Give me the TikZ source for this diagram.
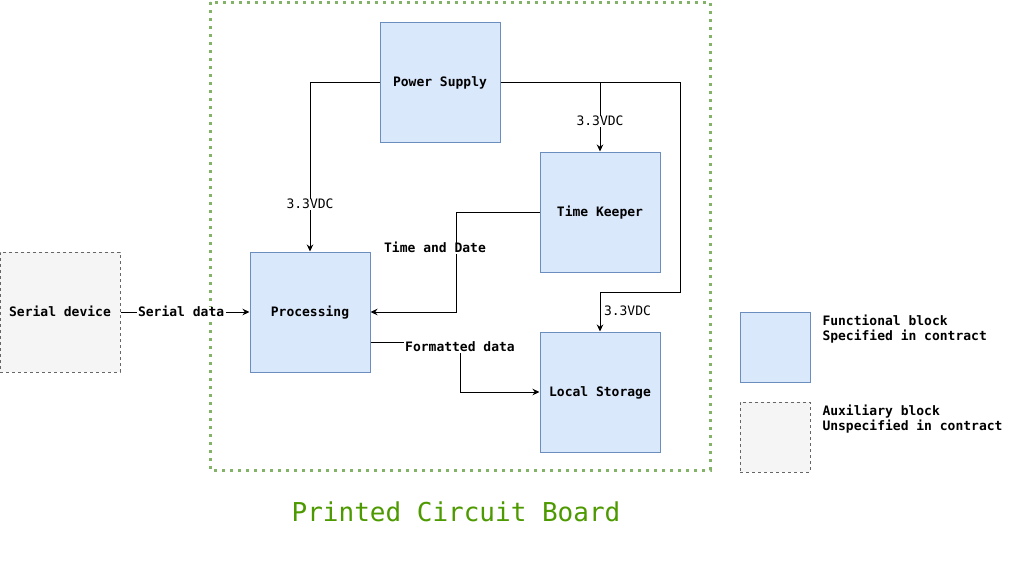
\documentclass[tikz,border=0pt]{standalone}
\usepackage{fontspec}
\setmonofont{DejaVu Sans Mono}
\usetikzlibrary{arrows.meta,positioning,calc}
\definecolor{fnfill}{HTML}{DAE8FC}
\definecolor{fndraw}{HTML}{6C8EBF}
\definecolor{auxfill}{HTML}{F5F5F5}
\definecolor{auxdraw}{HTML}{666666}
\definecolor{pcbdraw}{HTML}{82B366}
\definecolor{pcbtext}{HTML}{4D9900}
\tikzstyle{block}=[draw=fndraw,fill=fnfill,minimum size=120pt,inner sep=0pt,text height=9.5pt,text depth=0pt,font=\ttfamily\bfseries\fontsize{13}{15}\selectfont]
\tikzstyle{auxblock}=[block,draw=auxdraw,fill=auxfill,dashed]
\tikzstyle{lbl}=[fill=white,inner sep=1.5pt,text height=8pt,text depth=0pt,font=\ttfamily\bfseries\fontsize{13}{15}\selectfont]
\tikzstyle{volt}=[lbl,font=\ttfamily\fontsize{13}{15}\selectfont]
\tikzstyle{keytext}=[anchor=west,align=left,inner sep=0pt,font=\ttfamily\bfseries\fontsize{13}{15}\selectfont]

\begin{document}
\begin{tikzpicture}[x=1pt,y=-1pt,line width=1pt,>={Stealth[length=7pt,width=6.5pt]}]
\useasboundingbox (0,0) rectangle (1021,563);
% board outline
\draw[pcbdraw,line width=3pt,dash pattern=on 3pt off 5pt] (210,2) rectangle (710,470);
\node[text=pcbtext,font=\ttfamily\fontsize{26}{30}\selectfont] (pcblabel) at (456,512) {Printed Circuit Board};

% blocks
\node[block] (psu) at (440,82) {Power Supply};
\node[block] (keeper) at (600,212) {Time Keeper};
\node[block] (proc) at (310,312) {Processing};
\node[block] (store) at (600,392) {Local Storage};
\node[auxblock] (serial) at (60,312) {Serial device};

% turning points
\coordinate (railturn) at (680,292);
\coordinate (tdturn) at (456,212);
\coordinate (fdturn) at (460,342);

% power
\draw[->] (psu.west) -| (proc.north) node[volt,pos=0.862] {3.3VDC};
\draw[->] (psu.east) -| (keeper.north) node[volt,pos=0.786] {3.3VDC};
\draw[->] (psu.east) -| (railturn) -| (store.north) node[volt,pos=0.75,right,xshift=2pt,fill=none] {3.3VDC};

% data
\draw[->] (serial) -- (proc) node[lbl,pos=0.47] {Serial data};
\draw[->] (keeper.west) -- (tdturn) |- (proc.east) node[lbl,pos=0.18,xshift=-21pt] {Time and Date};
\draw[->] (proc.east |- fdturn) -- (fdturn) node[lbl,yshift=-5pt] {Formatted data} |- (store.west);

% legend
\node[block,minimum size=70pt] (fnkey) at (775,347) {};
\node[keytext] (fnkeytext) at (822,329.5) {Functional block\\Specified in contract};
\node[auxblock,minimum size=70pt] (auxkey) at (775,437) {};
\node[keytext] (auxkeytext) at (822,419.5) {Auxiliary block\\Unspecified in contract};
\end{tikzpicture}
\end{document}
